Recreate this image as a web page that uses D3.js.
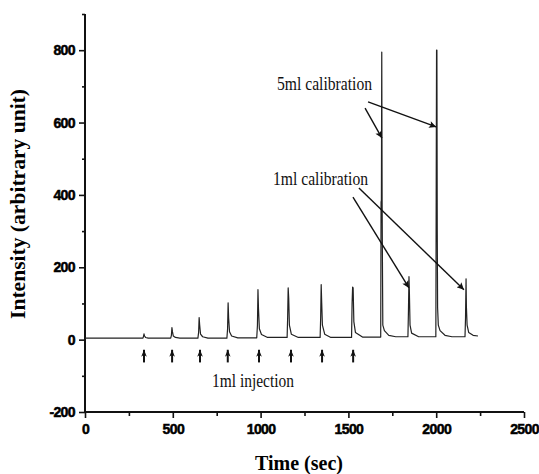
<!DOCTYPE html>
<html>
<head>
<meta charset="utf-8">
<script src="https://cdn.jsdelivr.net/npm/d3@7"></script>
<style>
  html, body { margin: 0; padding: 0; background: #fff; }
  svg { display: block; }
</style>
</head>
<body>
<svg id="chart" width="539" height="474"></svg>
<script>
// ---- Data ----
const traceTime = [
  0, 300, 330, 334, 336, 339, 345, 360,
  488, 492, 495, 498, 503, 515, 540,
  643, 647, 650, 653, 658, 670, 700,
  808, 812, 815, 818, 823, 835, 870,
  978, 982, 985, 988, 993, 1005, 1040,
  1151, 1154, 1157, 1160, 1164, 1175, 1215,
  1339, 1342, 1345, 1348, 1352, 1365, 1400,
  1518, 1521, 1524, 1527, 1531, 1540, 1580,
  1684, 1686, 1688, 1690, 1692, 1694, 1696, 1705, 1730, 1770,
  1839, 1842, 1845, 1847, 1851, 1860, 1900,
  1998, 2000, 2002, 2004, 2006, 2008, 2012, 2022, 2050, 2090,
  2164, 2167, 2170, 2172, 2176, 2185, 2210, 2238
];
const traceIntensity = [
  4, 4, 4, 10, 16, 10, 6, 4,
  4, 12, 33, 22, 10, 6, 4,
  4, 20, 61, 40, 15, 8, 4,
  4, 30, 102, 60, 22, 10, 5,
  5, 40, 138, 85, 30, 14, 6,
  6, 60, 143, 116, 40, 15, 6,
  6, 60, 152, 102, 40, 15, 6,
  6, 100, 145, 143, 50, 20, 7,
  7, 380, 386, 795, 386, 200, 40, 25, 12, 8,
  8, 80, 174, 138, 40, 18, 8,
  8, 400, 800, 800, 300, 88, 40, 25, 12, 8,
  8, 60, 168, 91, 40, 20, 12, 10
];

const injectionTimes = [336, 496, 655, 813, 991, 1173, 1350, 1527];
const injectionArrowTop = -28;
const injectionArrowBottom = -63;

// annotation arrows in data units: [fromTime, fromValue, toTime, toValue]
const calib5Arrows = [[1595, 640, 1691, 557], [1612, 657, 2000, 588]];
const calib1Arrows = [[1526, 394, 1845, 143], [1560, 419, 2158, 138]];

const xTicks = [0, 500, 1000, 1500, 2000, 2500];
const xMinorTicks = [250, 750, 1250, 1750, 2250];
const yTicks = [-200, 0, 200, 400, 600, 800];
const yMinorTicks = [-100, 100, 300, 500, 700, 900];

// ---- Drawing ----
const svg = d3.select("#chart");
const x = d3.scaleLinear().domain([0, 2500]).range([85, 524]);
const y = d3.scaleLinear().domain([-200, 900]).range([412, 14]);
const fmt = d => String(d); // hyphen-minus like the reference

const defs = svg.append("defs");
defs.append("marker")
  .attr("id", "head")
  .attr("viewBox", "0 0 10 10")
  .attr("refX", 10).attr("refY", 5)
  .attr("markerWidth", 11).attr("markerHeight", 7)
  .attr("markerUnits", "userSpaceOnUse")
  .attr("orient", "auto")
  .append("path").attr("d", "M0,0 L10,5 L0,10 L2,5 Z").attr("fill", "#111");
defs.append("marker")
  .attr("id", "smallhead")
  .attr("viewBox", "0 0 10 10")
  .attr("refX", 10).attr("refY", 5)
  .attr("markerWidth", 10).attr("markerHeight", 7)
  .attr("markerUnits", "userSpaceOnUse")
  .attr("orient", "auto")
  .append("path").attr("d", "M0,1 L10,5 L0,9 L3,5 Z").attr("fill", "#111");

// Axes
const xAxis = svg.append("g").attr("transform", `translate(0,${y(-200)})`)
  .call(d3.axisBottom(x).tickValues(xTicks).tickSize(6).tickFormat(fmt));
const xMinor = svg.append("g").attr("transform", `translate(0,${y(-200)})`)
  .call(d3.axisBottom(x).tickValues(xMinorTicks).tickSize(4).tickFormat(""));
const yAxis = svg.append("g").attr("transform", `translate(${x(0)},0)`)
  .call(d3.axisLeft(y).tickValues(yTicks).tickSize(6).tickFormat(fmt));
const yMinor = svg.append("g").attr("transform", `translate(${x(0)},0)`)
  .call(d3.axisLeft(y).tickValues(yMinorTicks).tickSize(3).tickFormat(""));

[xAxis, xMinor, yAxis, yMinor].forEach(g => {
  g.select(".domain").attr("stroke", "#111").attr("stroke-width", 2);
  g.selectAll(".tick line").attr("stroke", "#111").attr("stroke-width", 1.6);
});
[xMinor, yMinor].forEach(g => g.select(".domain").remove());
xAxis.select(".domain").attr("d", `M${x(0)},0H${x(2500)}`);
yAxis.select(".domain").attr("d", `M0,${y(-200)}V${y(900)}`);

xAxis.selectAll(".tick text")
  .attr("font-family", "Liberation Sans, Arial, sans-serif")
  .attr("font-weight", "bold").attr("font-size", 14).attr("fill", "#000")
  .attr("stroke", "#000").attr("stroke-width", 0.5)
  .attr("dy", "0.95em").attr("letter-spacing", "-0.6");
yAxis.selectAll(".tick text")
  .attr("font-family", "Liberation Sans, Arial, sans-serif")
  .attr("font-weight", "bold").attr("font-size", 14).attr("fill", "#000")
  .attr("stroke", "#000").attr("stroke-width", 0.5)
  .attr("x", -10).attr("letter-spacing", "-0.6");

// Trace
const pts = traceTime.map((t, i) => [t, traceIntensity[i]]);
svg.append("path")
  .datum(pts)
  .attr("fill", "none")
  .attr("stroke", "#222")
  .attr("stroke-width", 1.2)
  .attr("stroke-linejoin", "round")
  .attr("d", d3.line().x(d => x(d[0])).y(d => y(d[1])));

// Injection arrows
svg.append("g").selectAll("line")
  .data(injectionTimes)
  .join("line")
  .attr("x1", d => x(d)).attr("x2", d => x(d))
  .attr("y1", y(injectionArrowBottom)).attr("y2", y(injectionArrowTop))
  .attr("stroke", "#111").attr("stroke-width", 2)
  .attr("marker-end", "url(#smallhead)");

// Calibration arrows
svg.append("g").selectAll("line")
  .data(calib5Arrows.concat(calib1Arrows))
  .join("line")
  .attr("x1", d => x(d[0])).attr("y1", d => y(d[1]))
  .attr("x2", d => x(d[2])).attr("y2", d => y(d[3]))
  .attr("stroke", "#111").attr("stroke-width", 1.4)
  .attr("marker-end", "url(#head)");

// Annotation texts
const serif = "Liberation Serif, Times New Roman, serif";
svg.append("text").attr("x", 277).attr("y", 90)
  .attr("font-family", serif).attr("font-size", 18).attr("fill", "#111")
  .attr("textLength", 95).attr("lengthAdjust", "spacingAndGlyphs")
  .text("5ml calibration");
svg.append("text").attr("x", 273).attr("y", 185)
  .attr("font-family", serif).attr("font-size", 18).attr("fill", "#111")
  .attr("textLength", 95).attr("lengthAdjust", "spacingAndGlyphs")
  .text("1ml calibration");
svg.append("text").attr("x", 212).attr("y", 387)
  .attr("font-family", serif).attr("font-size", 18).attr("fill", "#111")
  .attr("textLength", 82).attr("lengthAdjust", "spacingAndGlyphs")
  .text("1ml injection");

// Axis titles
svg.append("text")
  .attr("transform", "translate(25,204) rotate(-90)")
  .attr("text-anchor", "middle")
  .attr("font-family", serif).attr("font-weight", "bold").attr("font-size", 21).attr("fill", "#000")
  .attr("textLength", 230).attr("lengthAdjust", "spacingAndGlyphs")
  .text("Intensity (arbitrary unit)");
svg.append("text")
  .attr("x", 299).attr("y", 470)
  .attr("text-anchor", "middle")
  .attr("font-family", serif).attr("font-weight", "bold").attr("font-size", 21).attr("fill", "#000")
  .attr("textLength", 88).attr("lengthAdjust", "spacingAndGlyphs")
  .text("Time (sec)");
</script>
</body>
</html>
